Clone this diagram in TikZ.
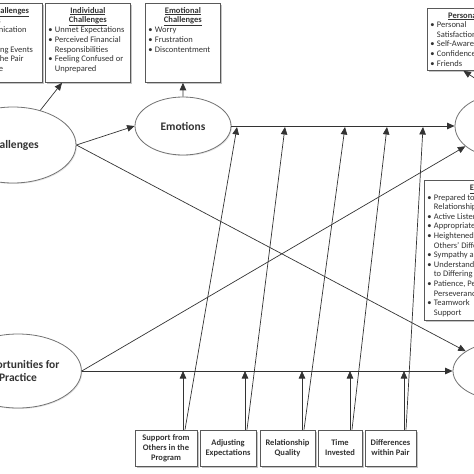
\documentclass[tikz,border=0pt]{standalone}
\usepackage{fontspec}
\setmainfont{Carlito}
\usetikzlibrary{shapes.geometric,shadows,arrows.meta}
\newcommand\hd[1]{\multicolumn{2}{@{}c@{}}{\textbf{\underline{#1}}}\\}
\newcommand\bi{\textbullet&}
\newcommand\panel[3]{\parbox[t][#2][t]{#1}{\fontsize{8.5}{9.6}\selectfont
  \begin{tabular}[t]{@{}p{6.5pt}@{}p{\dimexpr#1-6.5pt\relax}@{}}#3\end{tabular}}}
\tikzset{
  tbox/.style={draw=black!65, line width=0.8pt, fill=white, inner sep=3pt,
    anchor=north west, text=black!80,
    drop shadow={shadow xshift=1.5pt, shadow yshift=-1.5pt, fill=black!45}},
  fbox/.style={draw=black!65, line width=0.8pt, fill=white, inner sep=2pt,
    minimum height=36pt, align=center, text=black!80,
    font=\fontsize{8.5}{10}\selectfont\bfseries,
    drop shadow={shadow xshift=1.5pt, shadow yshift=-1.5pt, fill=black!45}},
  oval/.style={ellipse, draw=black!55, line width=0.8pt, fill=white,
    align=center, text=black!80, font=\fontsize{11.5}{13}\selectfont\bfseries,
    drop shadow={shadow xshift=1pt, shadow yshift=-1pt, fill=black!20}},
  link/.style={->, line width=0.7pt, draw=black!80},
}
\begin{document}
\begin{tikzpicture}[x=1pt,y=-1pt,>={Triangle[length=7.5pt,width=6.5pt]}]
\clip (0,0) rectangle (474,474);
% challenge boxes
\node[tbox] (LC) at (-38,3) {\panel{74pt}{73pt}{\hd{Pair Challenges}
  \bi Logistics\\ \bi Communication\\ \bi Travel\\ \bi Conflicting Events\\
  & Within the Pair\\ & Schedule\\}};
\node[tbox] (IC) at (45,3) {\panel{79pt}{73pt}{\hd{Individual}\hd{Challenges}
  \bi Unmet Expectations\\ \bi Perceived Financial\\ & Responsibilities\\
  \bi Feeling Confused or\\ & Unprepared\\}};
\node[tbox] (EC) at (145,3) {\panel{69pt}{73pt}{\hd{Emotional}\hd{Challenges}
  \bi Worry\\ \bi Frustration\\ \bi Discontentment\\}};
% outcome boxes
\node[tbox] (PB) at (427,8) {\panel{66pt}{56pt}{\hd{Personal}
  \bi Personal\\ & Satisfaction\\ \bi Self-Awareness\\ \bi Confidence\\ \bi Friends\\}};
\node[tbox] (EB) at (424,180) {\panel{116pt}{134pt}{\hd{Empathy}
  \bi Prepared to Enter\\ & Relationships\\ \bi Active Listening\\
  \bi Appropriate Responses\\ \bi Heightened Awareness of\\ & Others' Differences\\
  \bi Sympathy and Empathy\\ \bi Understanding and Respect\\ & to Differing Views\\
  \bi Patience, Persistence,\\ & Perseverance\\ \bi Teamwork\\ & Support\\}};
% ellipses
\node[oval, minimum width=126pt, minimum height=76pt] (C) at (13,145) {Challenges};
\node[oval, minimum width=96pt, minimum height=58pt] (E) at (183,126) {Emotions};
\node[oval, minimum width=124pt, minimum height=74pt] (O) at (18,371) {Opportunities for\\Practice};
\node[oval, minimum width=90pt, minimum height=62pt] (P) at (500,126) {};
\node[oval, minimum width=100pt, minimum height=58pt] (S) at (503,371) {};
% connectors
\draw[link] (C) -- ([xshift=17pt]IC.south west);
\draw[link] (E) -- (EC);
\draw[link] (C.east) -- (E.west);
\draw[link] (E.east) -- (P.west);
\draw[link] (P.north) -- (PB.south);
\draw[link] (C.east) -- (S);
\draw[link] (O.east) -- (P);
\draw[link] (O.east) -- (S.west);
% factors below
\foreach \n/\cx/\w/\ax/\bx/\txt in {
  1/166/62/183/237/{Support from\\Others in the\\Program},
  2/228/56/245/285/{Adjusting\\Expectations},
  3/287.5/55/302/345/{Relationship\\Quality},
  4/340/44/350/387/{Time\\Invested},
  5/390.5/51/404/423/{Differences\\within Pair}}{
  \node[fbox, minimum width=\w pt] (f\n) at (\cx,448) {\txt};
  \coordinate (a\n) at (\ax,371);
  \coordinate (b\n) at (\bx,127);
  \draw[link] (f\n.north -| a\n) -- (a\n);
  \draw[link] ([xshift=2pt]f\n.north -| a\n) -- (b\n);
}
\end{tikzpicture}
\end{document}
